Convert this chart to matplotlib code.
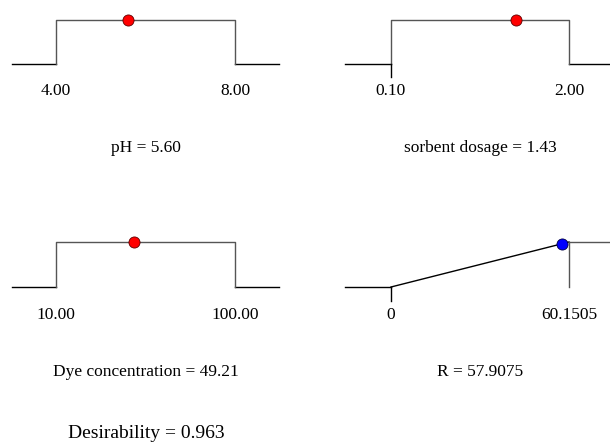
import matplotlib
matplotlib.use("Agg")
from matplotlib import pyplot
import numpy

# factor ranges and the optimum found
names = ["pH", "sorbent dosage", "Dye concentration"]
lows = [4.00, 0.10, 10.00]
highs = [8.00, 2.00, 100.00]
values = [5.60, 1.43, 49.21]
low_labels = ["4.00", "0.10", "10.00"]
high_labels = ["8.00", "2.00", "100.00"]

# response R, maximised from 0 up to the target
r_low = 0
r_high = 60.1505
r_value = 57.9075
desirability = 0.963

W, H = 610, 443
pyplot.rcParams["font.family"] = ["Liberation Serif", "DejaVu Serif"]

canvas = pyplot.figure(figsize=(W / 100, H / 100), dpi=100)

# pixel spots (top origin): low edge, high edge, top line, base line
cols = [(56, 235, 44), (391, 569, 46)]
rows = [(20, 64), (242, 287)]


def make_axes(col, row):
    x_lo, x_hi, pad = cols[col]
    y_top, y_base = rows[row]
    left = (x_lo - pad) / W
    width = (x_hi - x_lo + 2 * pad) / W
    bottom = 1 - y_base / H
    height = (y_base - y_top) / H
    ax = canvas.add_axes([left, bottom, width, height])
    ax.set_axis_off()
    return ax, pad / (x_hi - x_lo)


gray = "#555555"
label_y = -0.62
title_y = -1.9

spots = [(0, 0), (1, 0), (0, 1)]
for i in range(3):
    col, row = spots[i]
    ax, frac = make_axes(col, row)
    lo, hi = lows[i], highs[i]
    pad = frac * (hi - lo)
    ax.set_xlim(lo - pad, hi + pad)
    ax.set_ylim(0, 1)
    ax.plot([lo - pad, lo], [0, 0], color="black", lw=1, clip_on=False)
    ax.plot([hi, hi + pad], [0, 0], color="black", lw=1, clip_on=False)
    ax.plot([lo, lo, hi, hi], [0, 1, 1, 0], color=gray, lw=1, clip_on=False)
    if col == 1:
        ax.plot([lo, lo], [0, -0.3], color="black", lw=1, clip_on=False)
    ax.plot([values[i]], [1], "o", color="red", mec="#600000", mew=0.6, ms=8, clip_on=False, zorder=5)
    ax.text(lo, label_y, low_labels[i], ha="center", va="center", fontsize=12.5)
    ax.text(hi, label_y, high_labels[i], ha="center", va="center", fontsize=12.5)
    ax.text((lo + hi) / 2, title_y, "%s = %.2f" % (names[i], values[i]),
            ha="center", va="center", fontsize=12.5)

# response panel
ax, frac = make_axes(1, 1)
pad = frac * (r_high - r_low)
ax.set_xlim(r_low - pad, r_high + pad)
ax.set_ylim(0, 1)
ax.plot([r_low - pad, r_low], [0, 0], color="black", lw=1, clip_on=False)
ax.plot([r_low, r_high], [0, 1], color="black", lw=1, clip_on=False)
ax.plot([r_high, r_high], [0, 1], color=gray, lw=1, clip_on=False)
ax.plot([r_high, r_high + pad], [1, 1], color=gray, lw=1, clip_on=False)
ax.plot([r_low, r_low], [0, -0.3], color="black", lw=1, clip_on=False)
d_r = (r_value - r_low) / (r_high - r_low)
ax.plot([r_value], [d_r], "o", color="blue", mec="#000040", mew=0.6, ms=8, clip_on=False, zorder=5)
ax.text(r_low, label_y, "0", ha="center", va="center", fontsize=12.5)
ax.text(r_high, label_y, "%.4f" % r_high, ha="center", va="center", fontsize=12.5)
ax.text((r_low + r_high) / 2, title_y, "R = %.4f" % r_value, ha="center", va="center", fontsize=12.5)

canvas.text(146 / W, 1 - 433 / H, "Desirability = %.3f" % desirability,
            ha="center", va="center", fontsize=14)

canvas.savefig("out.png", dpi=100)
